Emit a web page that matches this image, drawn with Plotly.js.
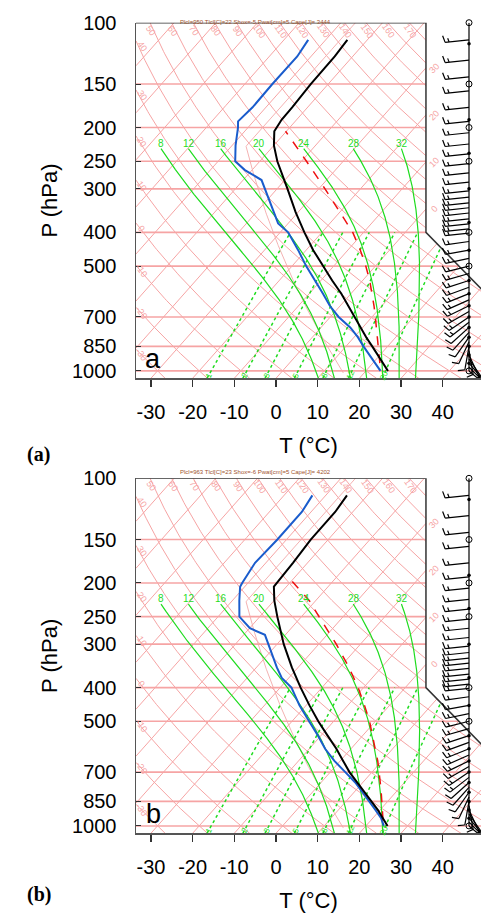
<!DOCTYPE html>
<html><head><meta charset="utf-8">
<script src="https://cdn.plot.ly/plotly-3.0.1.min.js"></script>
<style>html,body{margin:0;padding:0;background:#fff}</style>
</head><body><div id="chart" style="width:481px;height:918px"></div>
<script>
// ================= DATA =================
// Panel a : temperature (black)
const presTA = [1000,950,900,850,800,750,700,650,600,550,500,450,400,350,300,250,225,205,190,175,150,125,112];
const tempA  = [25.3,22.5,19.5,16.3,12.9,9.5,5.9,2.0,-2.3,-7.3,-12.6,-18.3,-24.2,-30.6,-37.5,-45.8,-50.0,-52.9,-53.6,-53.7,-54.2,-54.3,-54.8];
// Panel a : dew point (blue)
const presDA = [1000,950,900,850,800,750,700,650,600,550,500,450,400,377,350,300,283,265,250,225,200,192,175,150,125,112];
const dewA   = [23.5,20.5,17.4,14.2,10.9,7.0,2.0,-2.5,-6.7,-11.5,-16.6,-21.9,-28.1,-32.4,-35.8,-43.0,-45.6,-51.7,-55.9,-59.2,-62.4,-63.7,-63.2,-63.4,-63.3,-64.2];
// Panel a : parcel path (red dashed)
const presPA = [950,900,850,800,750,700,650,600,550,500,450,400,350,300,250,225,205];
const parcA  = [21.7,19.8,17.7,15.6,13.3,10.8,8.1,5.1,1.7,-2.3,-7.0,-12.6,-19.9,-28.5,-38.8,-44.9,-50.2];
// Panel b : temperature
const presTB = [1000,950,900,850,800,750,700,650,600,550,500,450,400,350,300,250,225,205,190,175,150,125,112];
const tempB  = [25.2,22.5,19.5,16.1,12.5,8.7,4.6,0.7,-3.5,-8.4,-13.7,-19.2,-25.1,-31.5,-38.4,-45.8,-49.9,-53.0,-53.2,-53.5,-54.2,-54.2,-54.9];
// Panel b : dew point
const presDB = [1000,950,900,850,800,750,700,650,600,550,500,450,400,375,350,300,282,270,261,250,225,205,200,175,150,125,112];
const dewB   = [24.3,22.0,18.9,15.5,12.1,8.2,3.6,-1.4,-6.2,-10.7,-15.9,-21.6,-27.3,-31.7,-35.1,-42.2,-44.9,-49.9,-52.2,-54.9,-58.3,-61.1,-61.4,-62.6,-62.2,-62.2,-63.2];
// Panel b : parcel path
const presPB = [963,900,850,800,750,700,650,600,550,500,450,400,350,300,250,225,190];
const parcB  = [22.9,20.6,18.6,16.5,14.2,11.7,9.0,5.8,2.3,-1.4,-6.0,-11.3,-17.8,-25.8,-35.8,-41.5,-52.4];
// Winds (same for both panels, read approximately): pressure, direction (deg from), speed (kt)
const windP   = [112,128,143,157,175,192,207,223,238,254,270,287,304,317,329,340,352,366,378,391,402,425,450,475,500,525,550,575,600,625,650,675,700,725,750,775,800,825,850,875,900,925,950,975,1000];
const windDir = [264,264,264,264,264,264,264,264,264,264,264,264,264,264,264,264,264,264,264,264,264,262,260,258,256,254,252,250,248,246,244,240,236,232,228,222,215,205,190,170,155,145,140,135,130];
const windSpd = [15,15,15,15,15,15,15,15,15,15,15,15,15,15,15,15,15,15,15,15,15,15,15,15,15,15,15,15,15,15,15,15,15,15,10,10,10,10,10,10,10,5,5,5,5];
const staffCircleP = [100,150,200,250,400,500,1000];
const staffDotP    = [115,190,237,300,375,450,550,600,650,700,750,800,850,900,950];
// Titles / labels
const infoA = "Plcl=950 Tlcl[C]=22 Shox=-5 Pwat[cm]=5 Cape[J]= 3444";
const infoB = "Plcl=963 Tlcl[C]=23 Shox=-6 Pwat[cm]=5 Cape[J]= 4202";
// Background grid values
const tickT = [-30,-20,-10,0,10,20,30,40];
const tickP = [100,150,200,250,300,400,500,700,850,1000];
const isobarP = [150,200,250,300,400,500,700,850,1000];
const isothermT = []; for (let t=-120;t<=50;t+=10) isothermT.push(t);
const dryTheta = []; for (let t=-40;t<=170;t+=10) dryTheta.push(t);
const moistTw = [8,12,16,20,24,28,32];
const mixW = [1,2,3,5,8,12,20];
const isoLabT = [-30,-20,-10,0];

// ================= skew-T geometry (NCL conventions) =================
function Yp(p){ return 132.182 - 44.061*Math.log10(p); }
function Xt(t,p){ return 0.54*t + 0.90692*Yp(p); }
const KX = 7.72, KY = 7.905;              // px per unit
const XMIN = -18.98, XR = XMIN + 345/KX;
const XRIGHT = 18.58, XMAXF = 26.75;
const YBOT = Yp(1050), YTOP = Yp(100), YCORN = Yp(400);
function xr(Y){ return Y >= YCORN ? XRIGHT : Math.min(XRIGHT + (YCORN - Y), XMAXF); }
function inside(X,Y){ return X >= XMIN-1e-9 && X <= xr(Y)+1e-9 && Y >= YBOT-1e-9 && Y <= YTOP+1e-9; }

function traceCurve(fx, p0, p1, n, out){
  const lp0=Math.log(p0), lp1=Math.log(p1);
  let prevP=null, prevIn=false, seg=[];
  const flush=()=>{ if(seg.length>1){ seg.forEach(q=>{out.x.push(q[0]);out.y.push(q[1]);}); out.x.push(null); out.y.push(null);} seg=[]; };
  for(let i=0;i<=n;i++){
    const p=Math.exp(lp0+(lp1-lp0)*i/n);
    const X=fx(p), Y=Yp(p), ins=inside(X,Y);
    if(prevP!==null && ins!==prevIn){
      let a=prevP, b=p;
      for(let k=0;k<30;k++){ const m=Math.sqrt(a*b); if(inside(fx(m),Yp(m))===prevIn) a=m; else b=m; }
      const pb = prevIn ? a : b;
      seg.push([fx(pb),Yp(pb)]);
      if(prevIn) flush();
    }
    if(ins) seg.push([X,Y]);
    prevP=p; prevIn=ins;
  }
  flush();
}
function esat(tc){ return 6.112*Math.exp(17.67*tc/(tc+243.5)); }
function dTdp(T,p){
  const es=esat(T-273.15), rs=0.622*es/(p-es);
  return (287.04*T + 2.501e6*rs)/(p*(1005.7 + 2.501e6*2.501e6*rs*0.622/(287.04*T*T)));
}
function moistTable(tw){
  const tab={}; let T=tw+273.15; tab[1000]=T;
  for(let p=1000;p>220;p--){ const h=-1; const k1=dTdp(T,p),k2=dTdp(T+h*k1/2,p+h/2),k3=dTdp(T+h*k2/2,p+h/2),k4=dTdp(T+h*k3,p+h); T+=h*(k1+2*k2+2*k3+k4)/6; tab[p-1]=T; }
  T=tw+273.15;
  for(let p=1000;p<1050;p++){ const h=1; const k1=dTdp(T,p),k2=dTdp(T+h*k1/2,p+h/2),k3=dTdp(T+h*k2/2,p+h/2),k4=dTdp(T+h*k3,p+h); T+=h*(k1+2*k2+2*k3+k4)/6; tab[p+1]=T; }
  return p=>{ const a=Math.floor(p), b=a+1, f=p-a; const ta=tab[a], tb=(tab[b]!==undefined?tab[b]:ta); return ta+(tb-ta)*f-273.15; };
}
function mixT(w,p){ const e=w*p/(622+w); const l=Math.log(e/6.112); return 243.5*l/(17.67-l); }
function stdT(p){ return p>226.32 ? 288.15*Math.pow(p/1013.25,0.190263)-273.15 : -56.5; }

const PINK='#f6a4a4', GREEN='#1fdc1f', FONT='Liberation Sans, Arial, Helvetica, sans-serif';

function panel(xa, ya, T, Td, Tp, info, letter, yOff){
  const traces=[], anns=[];
  const xref=xa, yref=ya;
  const L=(o)=>Object.assign({type:'scatter',mode:'lines',xaxis:xa,yaxis:ya,hoverinfo:'skip'},o);
  let g={x:[],y:[]};
  isothermT.forEach(t=>traceCurve(p=>Xt(t,p),1050,100,60,g));
  dryTheta.forEach(th=>traceCurve(p=>Xt((th+273.15)*Math.pow(p/1000,0.2857)-273.15,p),1050,100,160,g));
  traces.push(L({x:g.x,y:g.y,line:{color:PINK,width:1}}));
  let s={x:[],y:[]}; traceCurve(p=>Xt(stdT(p),p),1013.25,100,300,s);
  traces.push(L({x:s.x,y:s.y,line:{color:'#f4b2b2',width:1}}));
  let ib={x:[],y:[]};
  isobarP.forEach(p=>{ const Y=Yp(p); ib.x.push(XMIN,xr(Y),null); ib.y.push(Y,Y,null); });
  traces.push(L({x:ib.x,y:ib.y,line:{color:PINK,width:1.6}}));
  let m={x:[],y:[]};
  moistTw.forEach(tw=>{ const f=moistTable(tw); traceCurve(p=>Xt(f(p),p),1050,230,300,m);
    anns.push({xref,yref,x:Xt(f(231),231),y:Yp(222),text:String(tw),showarrow:false,font:{size:10,color:GREEN,family:FONT}}); });
  traces.push(L({x:m.x,y:m.y,line:{color:GREEN,width:1.2}}));
  let w={x:[],y:[]};
  mixW.forEach(q=>{ traceCurve(p=>Xt(mixT(q,p),p),1050,400,60,w);
    anns.push({xref,yref,x:Xt(mixT(q,1028),1028),y:Yp(1028),text:String(q),showarrow:false,textangle:-65,font:{size:8,color:GREEN,family:FONT}}); });
  traces.push(L({x:w.x,y:w.y,line:{color:GREEN,width:1.5,dash:'dot'}}));
  traces.push(L({x:[XMIN,XRIGHT,XRIGHT,XMAXF,XMAXF],y:[YTOP,YTOP,YCORN,YCORN-(XMAXF-XRIGHT),YBOT],line:{color:'#333',width:1.5}}));
  dryTheta.forEach(th=>{
    const fx=p=>Xt((th+273.15)*Math.pow(p/1000,0.2857)-273.15,p);
    const xt=fx(100);
    if(xt>XMIN+0.6 && xt<XRIGHT-0.3){
      anns.push({xref,yref,x:xt+0.15,y:YTOP-1.0,text:String(th),showarrow:false,textangle:55,font:{size:9,color:PINK,family:FONT}});
    } else if(xt<=XMIN && fx(1050)>XMIN){
      let a=100,b=1050; for(let k=0;k<40;k++){ const mm=(a+b)/2; if(fx(mm)<XMIN) a=mm; else b=mm; }
      anns.push({xref,yref,x:XMIN+0.75,y:Yp(a)-0.7,text:String(th),showarrow:false,textangle:55,font:{size:9,color:PINK,family:FONT}});
    }
  });
  isoLabT.forEach(t=>{ const Y=(XRIGHT-0.54*t)/0.90692;
    anns.push({xref,yref,x:XRIGHT+1.1,y:Y,text:String(Math.abs(t)),showarrow:false,textangle:-45,font:{size:9,color:PINK,family:FONT}}); });
  traces.push(L({x:Td.p.map((p,i)=>Xt(Td.t[i],p)),y:Td.p.map(Yp),line:{color:'#1a5ccc',width:2}}));
  traces.push(L({x:Tp.p.map((p,i)=>Xt(Tp.t[i],p)),y:Tp.p.map(Yp),line:{color:'#ee1010',width:1.5,dash:'dash'}}));
  traces.push(L({x:T.p.map((p,i)=>Xt(T.t[i],p)),y:T.p.map(Yp),line:{color:'#000',width:2}}));
  const XS = XMIN + (469-136)/KX;
  let bx=[],by=[];
  bx.push(XS,XS,null); by.push(YTOP,Yp(1000),null);
  windP.forEach((p,i)=>{
    const Y0=Yp(p), d=windDir[i]*Math.PI/180, sx=Math.sin(d), sy=Math.cos(d), Ls=24;
    bx.push(XS, XS+sx*Ls/KX, null); by.push(Y0, Y0+sy*Ls/KY, null);
    const fx=sy, fy=-sx, a=15*Math.PI/180;
    const dx=fx*Math.cos(a)+sx*Math.sin(a), dy=fy*Math.cos(a)+sy*Math.sin(a);
    let full=Math.floor(windSpd[i]/10), half=(windSpd[i]%10)>=5?1:0, pos=0;
    for(let f=0;f<full;f++){ const ox=sx*(Ls-pos), oy=sy*(Ls-pos); bx.push(XS+ox/KX, XS+(ox+dx*7)/KX, null); by.push(Y0+oy/KY, Y0+(oy+dy*7)/KY, null); pos+=4; }
    if(half){ if(full===0) pos=4; const ox=sx*(Ls-pos), oy=sy*(Ls-pos); bx.push(XS+ox/KX, XS+(ox+dx*4)/KX, null); by.push(Y0+oy/KY, Y0+(oy+dy*4)/KY, null); }
  });
  traces.push(L({x:bx,y:by,line:{color:'#000',width:1.2}}));
  traces.push({type:'scatter',mode:'markers',xaxis:xa,yaxis:ya,hoverinfo:'skip',cliponaxis:false,
    x:staffCircleP.map(()=>XS),y:staffCircleP.map(Yp),marker:{symbol:'circle-open',size:6,color:'#000',line:{width:1}}});
  traces.push({type:'scatter',mode:'markers',xaxis:xa,yaxis:ya,hoverinfo:'skip',
    x:staffDotP.map(()=>XS),y:staffDotP.map(Yp),marker:{symbol:'circle',size:3.5,color:'#000'}});
  anns.push({xref:'paper',yref:'paper',x:255/481,y:1-(17+yOff)/918,text:info,showarrow:false,font:{size:6,color:'#a0522d',family:FONT}});
  anns.push({xref:xa+' domain',yref:ya+' domain',x:0.05,y:0.055,xanchor:'center',yanchor:'middle',text:letter,showarrow:false,font:{size:27,color:'#000',family:FONT}});
  return {traces,anns};
}

const A = panel('x','y',{p:presTA,t:tempA},{p:presDA,t:dewA},{p:presPA,t:parcA},infoA,'a',0);
const B = panel('x2','y2',{p:presTB,t:tempB},{p:presDB,t:dewB},{p:presPB,t:parcB},infoB,'b',455.5);

function xAxis(anchor){
  return {domain:[136/481,1],range:[XMIN,XR],anchor,showgrid:false,zeroline:false,
    tickvals:tickT.map(t=>Xt(t,1050)),ticktext:tickT.map(String),ticks:'outside',ticklen:7,tickwidth:1.5,tickcolor:'#333',
    showline:true,linecolor:'#555',linewidth:2,tickfont:{size:20,family:FONT,color:'#000'},ticklabelstandoff:8,
    title:{text:'T (°C)',font:{size:22,family:FONT,color:'#000'},standoff:15}};
}
function yAxis(anchor,dom){
  return {domain:dom,range:[YBOT,YTOP],anchor,showgrid:false,zeroline:false,
    tickvals:tickP.map(Yp),ticktext:tickP.map(String),ticks:'inside',ticklen:5,tickcolor:'#333',
    showline:true,linecolor:'#555',linewidth:1.5,tickfont:{size:20,family:FONT,color:'#000'},ticklabelstandoff:14,
    title:{text:'P (hPa)',font:{size:22,family:FONT,color:'#000'},standoff:8}};
}
const SERIF='Liberation Serif, Times New Roman, serif';
const layout = {
  width:481,height:918,margin:{l:0,r:0,t:0,b:0},paper_bgcolor:'#fff',plot_bgcolor:'#fff',showlegend:false,hovermode:false,
  xaxis:xAxis('y'), yaxis:yAxis('x',[1-378.3/918,1-22.7/918]),
  xaxis2:xAxis('y2'), yaxis2:yAxis('x2',[1-833.3/918,1-478.3/918]),
  annotations: A.anns.concat(B.anns).concat([
    {xref:'paper',yref:'paper',x:25/481,y:1-455/918,text:'(a)',showarrow:false,font:{size:20,family:SERIF,color:'#000',weight:'bold'}},
    {xref:'paper',yref:'paper',x:25/481,y:1-908/918,text:'(b)',showarrow:false,font:{size:20,family:SERIF,color:'#000',weight:'bold'}}
  ])
};
Plotly.newPlot('chart', A.traces.concat(B.traces), layout, {staticPlot:true,displayModeBar:false});
</script></body></html>
